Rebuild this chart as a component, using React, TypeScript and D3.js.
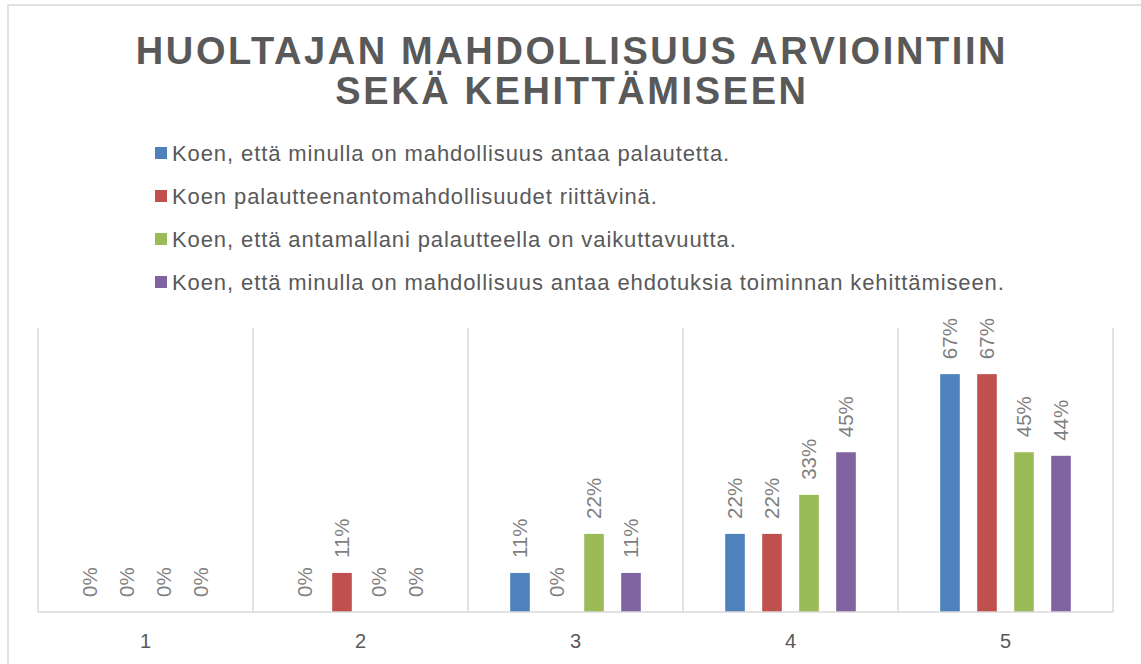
import React from "react";
import * as d3 from "d3";

const categories = ["1", "2", "3", "4", "5"];
const seriesNames = [
  "Koen, että minulla on mahdollisuus antaa palautetta.",
  "Koen palautteenantomahdollisuudet riittävinä.",
  "Koen, että antamallani palautteella on vaikuttavuutta.",
  "Koen, että minulla on mahdollisuus antaa ehdotuksia toiminnan kehittämiseen.",
];
const seriesColors = ["#4f81bd", "#c0504d", "#9bbb59", "#8064a2"];
const s1 = [0, 0, 0.11, 0.22, 0.67];
const s2 = [0, 0.11, 0, 0.22, 0.67];
const s3 = [0, 0, 0.22, 0.33, 0.45];
const s4 = [0, 0, 0.11, 0.45, 0.44];
const seriesValues = [s1, s2, s3, s4];
const titleLines = ["HUOLTAJAN MAHDOLLISUUS ARVIOINTIIN", "SEKÄ KEHITTÄMISEEN"];

const W = 1141;
const H = 664;
const plot = { left: 38, right: 1113, top: 328, bottom: 612 };
const FONT = "'Liberation Sans', Arial, sans-serif";

export default function App() {
  const x = d3.scaleBand<string>().domain(categories).range([plot.left, plot.right]).padding(0);
  const y = d3.scaleLinear().domain([0, 0.8]).range([plot.bottom, plot.top]);
  const inner = d3
    .scaleBand<number>()
    .domain(d3.range(seriesNames.length))
    .range([0, 148])
    .paddingInner(0.47)
    .paddingOuter(0.235);
  const fmt = d3.format(".0%");

  return (
    <svg
      width={W}
      height={H}
      style={{ position: "absolute", left: 0, top: 0, background: "#fff" }}
      fontFamily={FONT}
    >
      <rect x={8} y={5} width={1160} height={700} fill="#fff" stroke="#d9d9d9" strokeWidth={1.5} />
      {titleLines.map((t, i) => (
        <text
          key={i}
          x={572}
          y={64 + i * 40}
          textAnchor="middle"
          fontSize={38}
          fontWeight="bold"
          fill="#595959"
          letterSpacing={2.6}
        >
          {t}
        </text>
      ))}
      {seriesNames.map((n, i) => (
        <g key={n} transform={`translate(155, ${153 + i * 43})`}>
          <rect x={0} y={-6} width={12} height={12} fill={seriesColors[i]} />
          <text x={17} y={0} dy="0.35em" fontSize={22} fill="#595959" letterSpacing={0.9}>
            {n}
          </text>
        </g>
      ))}
      {categories.map((c) => {
        const bx = x(c)!;
        return (
          <line
            key={"g" + c}
            x1={bx}
            x2={bx}
            y1={plot.top}
            y2={plot.bottom}
            stroke="#d9d9d9"
            strokeWidth={1.5}
          />
        );
      })}
      <line x1={plot.right} x2={plot.right} y1={plot.top} y2={plot.bottom} stroke="#d9d9d9" strokeWidth={1.5} />
      {categories.map((c, ci) => {
        const cx = x(c)! + x.bandwidth() / 2 - 74;
        return (
          <g key={"c" + c}>
            {seriesValues.map((vals, si) => {
              const v = vals[ci];
              const bx = cx + inner(si)!;
              const top = y(v);
              const mid = bx + inner.bandwidth() / 2;
              return (
                <g key={si}>
                  {v > 0 && (
                    <rect
                      x={bx}
                      y={top}
                      width={inner.bandwidth()}
                      height={plot.bottom - top}
                      fill={seriesColors[si]}
                    />
                  )}
                  <text
                    transform={`translate(${mid}, ${top - 15}) rotate(-90)`}
                    dy="0.35em"
                    fontSize={20.5}
                    fill="#7f7f7f"
                    textAnchor="start"
                  >
                    {fmt(v)}
                  </text>
                </g>
              );
            })}
          </g>
        );
      })}
      <line x1={plot.left} x2={plot.right} y1={plot.bottom} y2={plot.bottom} stroke="#d9d9d9" strokeWidth={1.5} />
      {categories.map((c) => (
        <text
          key={"t" + c}
          x={x(c)! + x.bandwidth() / 2}
          y={641}
          dy="0.35em"
          textAnchor="middle"
          fontSize={20}
          fill="#595959"
        >
          {c}
        </text>
      ))}
    </svg>
  );
}
